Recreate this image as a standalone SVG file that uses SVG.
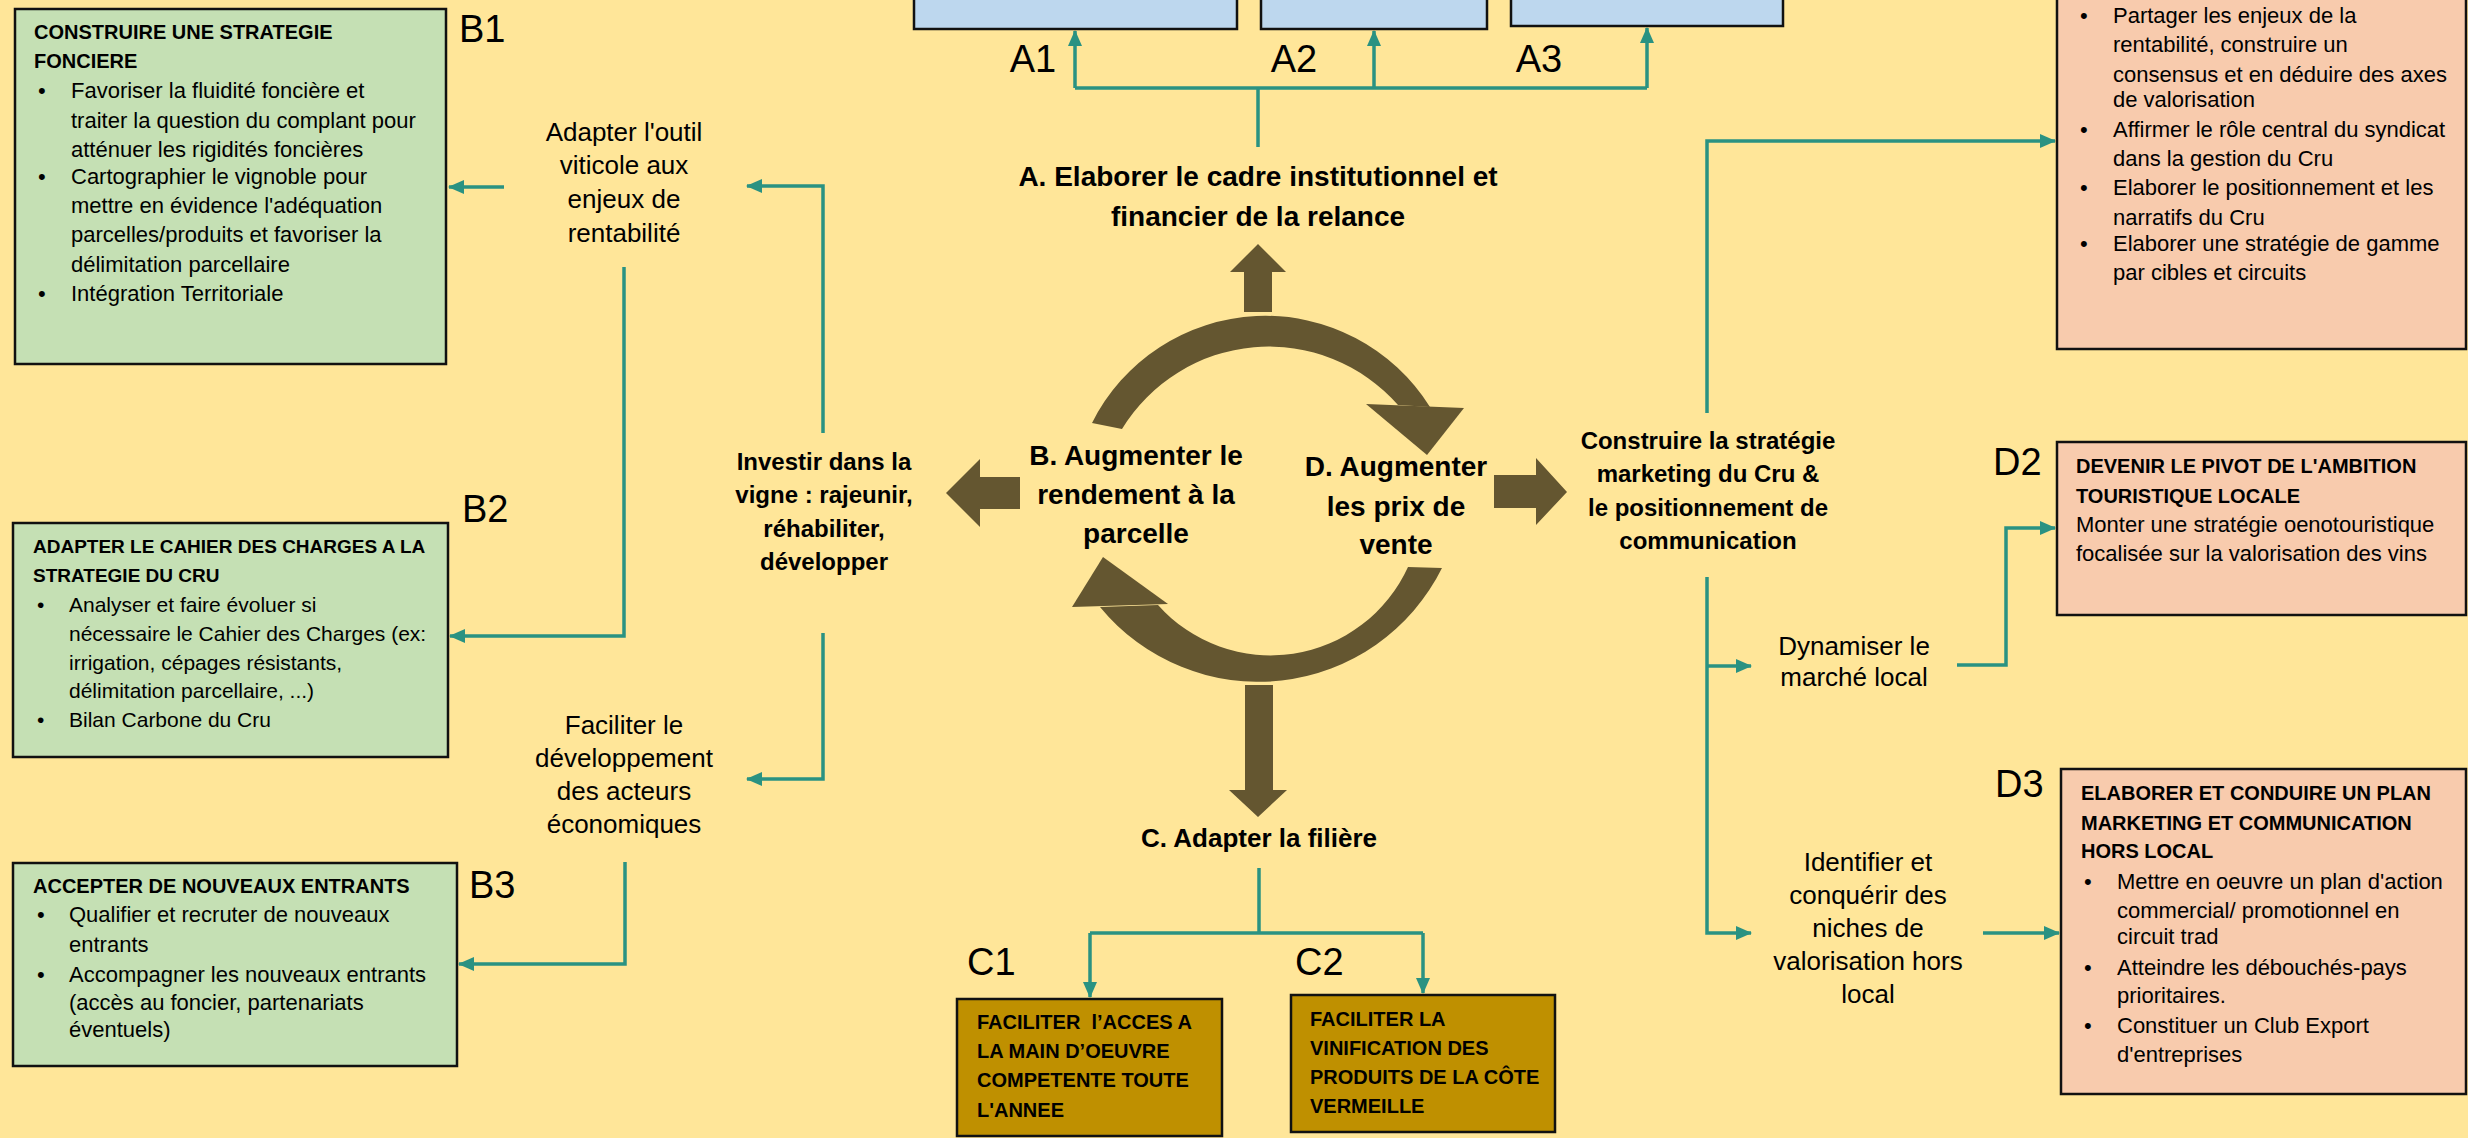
<svg xmlns="http://www.w3.org/2000/svg" width="2468" height="1138" viewBox="0 0 2468 1138">
<defs>
<style>
text{font-family:"Liberation Sans",Arial,sans-serif;fill:#000}
.t{font-size:20px;font-weight:bold}
.t19{font-size:19px;font-weight:bold}
.b{font-size:22px}
.b21{font-size:21px}
.lab{font-size:38px}
.mid{font-size:26px;text-anchor:middle}
.midb{font-size:24px;font-weight:bold;text-anchor:middle}
.big{font-size:28px;font-weight:bold;text-anchor:middle}
.green{fill:#C5E0B4;stroke:#111;stroke-width:2.5}
.orange{fill:#F8CBAD;stroke:#111;stroke-width:2.5}
.blue{fill:#BDD7EE;stroke:#111;stroke-width:2.5}
.gold{fill:#BF9000;stroke:#111;stroke-width:2.5}
.ln{fill:none;stroke:#2A9282;stroke-width:3.5}
.ar{marker-end:url(#ah)}
.brown{fill:#645630}
</style>
<marker id="ah" viewBox="0 0 16 14" refX="15" refY="7" markerWidth="16" markerHeight="14" markerUnits="userSpaceOnUse" orient="auto">
<path d="M0,0 L16,7 L0,14 z" fill="#2A9282"/>
</marker>
</defs>
<rect x="0" y="0" width="2468" height="1138" fill="#FFE699"/>

<g id="connectors">
<path class="ln ar" d="M504,187 H449"/>
<path class="ln ar" d="M624,267 V636 H450"/>
<path class="ln ar" d="M823,433 V186 H747"/>
<path class="ln ar" d="M823,633 V779 H747"/>
<path class="ln ar" d="M625,862 V964 H459"/>
<path class="ln" d="M1258,147 V88"/>
<path class="ln" d="M1075,88 H1647"/>
<path class="ln ar" d="M1075,88 V31"/>
<path class="ln ar" d="M1374,88 V31"/>
<path class="ln ar" d="M1647,88 V28"/>
<path class="ln" d="M1259,868 V933"/>
<path class="ln" d="M1090,933 H1423"/>
<path class="ln ar" d="M1090,933 V997"/>
<path class="ln ar" d="M1423,933 V993"/>
<path class="ln ar" d="M1707,413 V141 H2055"/>
<path class="ln ar" d="M1707,577 V933 H1751"/>
<path class="ln ar" d="M1707,666 H1751"/>
<path class="ln ar" d="M1957,665 H2006 V528 H2055"/>
<path class="ln ar" d="M1983,933 H2059"/>
</g>

<g id="cycle">
<path class="brown" d="M1092,423 A194,194 0 0 1 1430,407 L1398,405 A172,172 0 0 0 1122,429 Z"/>
<polygon class="brown" points="1366,404 1464,408 1427,455"/>
<path class="brown" d="M1442,568 A205,205 0 0 1 1100,607 L1158,605 A151,151 0 0 0 1408,567 Z"/>
<polygon class="brown" points="1072,607 1168,604 1103,557"/>
<polygon class="brown" points="1244,312 1244,272 1230,272 1258,244 1286,272 1272,272 1272,312"/>
<polygon class="brown" points="1245,685 1273,685 1273,790 1287,790 1258,817 1229,790 1245,790"/>
<polygon class="brown" points="1020,477 1020,509 980,509 980,527 946,493 980,459 980,477"/>
<polygon class="brown" points="1494,475 1536,475 1536,458 1567,492 1536,525 1536,508 1494,508"/>
</g>

<g id="A">
<text class="big" x="1258" y="186">A. Elaborer le cadre institutionnel et</text>
<text class="big" x="1258" y="226">financier de la relance</text>
</g>
<g id="A1">
<rect class="blue" x="914" y="-10" width="323" height="39"/>
<text class="lab" x="1033" y="72" text-anchor="middle">A1</text>
</g>
<g id="A2">
<rect class="blue" x="1261" y="-10" width="226" height="39"/>
<text class="lab" x="1294" y="72" text-anchor="middle">A2</text>
</g>
<g id="A3">
<rect class="blue" x="1511" y="-10" width="272" height="36"/>
<text class="lab" x="1539" y="72" text-anchor="middle">A3</text>
</g>

<g id="B">
<text class="big" x="1136" y="465">B. Augmenter le</text>
<text class="big" x="1136" y="504">rendement à la</text>
<text class="big" x="1136" y="543">parcelle</text>
</g>
<g id="D">
<text class="big" x="1396" y="476">D. Augmenter</text>
<text class="big" x="1396" y="516">les prix de</text>
<text class="big" x="1396" y="554">vente</text>
</g>
<g id="C">
<text class="big" x="1259" y="847" style="font-size:26px">C. Adapter la filière</text>
</g>

<g id="investir">
<text class="midb" x="824" y="470">Investir dans la</text>
<text class="midb" x="824" y="503">vigne : rajeunir,</text>
<text class="midb" x="824" y="537">réhabiliter,</text>
<text class="midb" x="824" y="570">développer</text>
</g>
<g id="adapter-outil">
<text class="mid" x="624" y="141">Adapter l'outil</text>
<text class="mid" x="624" y="174">viticole aux</text>
<text class="mid" x="624" y="208">enjeux de</text>
<text class="mid" x="624" y="242">rentabilité</text>
</g>
<g id="faciliter">
<text class="mid" x="624" y="734">Faciliter le</text>
<text class="mid" x="624" y="767">développement</text>
<text class="mid" x="624" y="800">des acteurs</text>
<text class="mid" x="624" y="833">économiques</text>
</g>

<g id="B1">
<rect class="green" x="15" y="9" width="431" height="355"/>
<text class="lab" x="459" y="42">B1</text>
<text class="t" x="34" y="39">CONSTRUIRE UNE STRATEGIE</text>
<text class="t" x="34" y="68">FONCIERE</text>
<text class="b" x="38" y="98">•</text>
<text class="b" x="71" y="98">Favoriser la fluidité foncière et</text>
<text class="b" x="71" y="128">traiter la question du complant pour</text>
<text class="b" x="71" y="157">atténuer les rigidités foncières</text>
<text class="b" x="38" y="184">•</text>
<text class="b" x="71" y="184">Cartographier le vignoble pour</text>
<text class="b" x="71" y="213">mettre en évidence l'adéquation</text>
<text class="b" x="71" y="242">parcelles/produits et favoriser la</text>
<text class="b" x="71" y="272">délimitation parcellaire</text>
<text class="b" x="38" y="301">•</text>
<text class="b" x="71" y="301">Intégration Territoriale</text>
</g>

<g id="B2">
<rect class="green" x="13" y="523" width="435" height="234"/>
<text class="lab" x="462" y="522">B2</text>
<text class="t19" x="33" y="553">ADAPTER LE CAHIER DES CHARGES A LA</text>
<text class="t19" x="33" y="582">STRATEGIE DU CRU</text>
<text class="b21" x="37" y="612">•</text>
<text class="b21" x="69" y="612">Analyser et faire évoluer si</text>
<text class="b21" x="69" y="641">nécessaire le Cahier des Charges (ex:</text>
<text class="b21" x="69" y="670">irrigation, cépages résistants,</text>
<text class="b21" x="69" y="698">délimitation parcellaire, ...)</text>
<text class="b21" x="37" y="727">•</text>
<text class="b21" x="69" y="727">Bilan Carbone du Cru</text>
</g>

<g id="B3">
<rect class="green" x="13" y="863" width="444" height="203"/>
<text class="lab" x="469" y="898">B3</text>
<text class="t" x="33" y="893">ACCEPTER DE NOUVEAUX ENTRANTS</text>
<text class="b" x="37" y="922">•</text>
<text class="b" x="69" y="922">Qualifier et recruter de nouveaux</text>
<text class="b" x="69" y="952">entrants</text>
<text class="b" x="37" y="982">•</text>
<text class="b" x="69" y="982">Accompagner les nouveaux entrants</text>
<text class="b" x="69" y="1010">(accès au foncier, partenariats</text>
<text class="b" x="69" y="1037">éventuels)</text>
</g>

<g id="C1">
<text class="lab" x="967" y="975">C1</text>
<rect class="gold" x="957" y="999" width="265" height="137"/>
<text class="t" x="977" y="1029">FACILITER&#160; l’ACCES A</text>
<text class="t" x="977" y="1058">LA MAIN D’OEUVRE</text>
<text class="t" x="977" y="1087">COMPETENTE TOUTE</text>
<text class="t" x="977" y="1117">L'ANNEE</text>
</g>
<g id="C2">
<text class="lab" x="1295" y="975">C2</text>
<rect class="gold" x="1291" y="995" width="264" height="137"/>
<text class="t" x="1310" y="1026">FACILITER LA</text>
<text class="t" x="1310" y="1055">VINIFICATION DES</text>
<text class="t" x="1310" y="1084">PRODUITS DE LA CÔTE</text>
<text class="t" x="1310" y="1113">VERMEILLE</text>
</g>

<g id="marketing">
<text class="midb" x="1708" y="449">Construire la stratégie</text>
<text class="midb" x="1708" y="482">marketing du Cru &amp;</text>
<text class="midb" x="1708" y="516">le positionnement de</text>
<text class="midb" x="1708" y="549">communication</text>
</g>
<g id="dynamiser">
<text class="mid" x="1854" y="655">Dynamiser le</text>
<text class="mid" x="1854" y="686">marché local</text>
</g>
<g id="identifier">
<text class="mid" x="1868" y="871">Identifier et</text>
<text class="mid" x="1868" y="904">conquérir des</text>
<text class="mid" x="1868" y="937">niches de</text>
<text class="mid" x="1868" y="970">valorisation hors</text>
<text class="mid" x="1868" y="1003">local</text>
</g>

<g id="D1">
<rect class="orange" x="2057" y="-10" width="409" height="359"/>
<text class="b" x="2080" y="23">•</text>
<text class="b" x="2113" y="23">Partager les enjeux de la</text>
<text class="b" x="2113" y="52">rentabilité, construire un</text>
<text class="b" x="2113" y="82">consensus et en déduire des axes</text>
<text class="b" x="2113" y="107">de valorisation</text>
<text class="b" x="2080" y="137">•</text>
<text class="b" x="2113" y="137">Affirmer le rôle central du syndicat</text>
<text class="b" x="2113" y="166">dans la gestion du Cru</text>
<text class="b" x="2080" y="195">•</text>
<text class="b" x="2113" y="195">Elaborer le positionnement et les</text>
<text class="b" x="2113" y="225">narratifs du Cru</text>
<text class="b" x="2080" y="251">•</text>
<text class="b" x="2113" y="251">Elaborer une stratégie de gamme</text>
<text class="b" x="2113" y="280">par cibles et circuits</text>
</g>

<g id="D2">
<text class="lab" x="1993" y="475">D2</text>
<rect class="orange" x="2057" y="442" width="409" height="173"/>
<text class="t" x="2076" y="473">DEVENIR LE PIVOT DE L'AMBITION</text>
<text class="t" x="2076" y="503">TOURISTIQUE LOCALE</text>
<text class="b" x="2076" y="532">Monter une stratégie oenotouristique</text>
<text class="b" x="2076" y="561">focalisée sur la valorisation des vins</text>
</g>

<g id="D3">
<text class="lab" x="1995" y="797">D3</text>
<rect class="orange" x="2061" y="769" width="405" height="325"/>
<text class="t" x="2081" y="800">ELABORER ET CONDUIRE UN PLAN</text>
<text class="t" x="2081" y="830">MARKETING ET COMMUNICATION</text>
<text class="t" x="2081" y="858">HORS LOCAL</text>
<text class="b" x="2084" y="889">•</text>
<text class="b" x="2117" y="889">Mettre en oeuvre un plan d'action</text>
<text class="b" x="2117" y="918">commercial/ promotionnel en</text>
<text class="b" x="2117" y="944">circuit trad</text>
<text class="b" x="2084" y="975">•</text>
<text class="b" x="2117" y="975">Atteindre les débouchés-pays</text>
<text class="b" x="2117" y="1003">prioritaires.</text>
<text class="b" x="2084" y="1033">•</text>
<text class="b" x="2117" y="1033">Constituer un Club Export</text>
<text class="b" x="2117" y="1062">d'entreprises</text>
</g>
</svg>
